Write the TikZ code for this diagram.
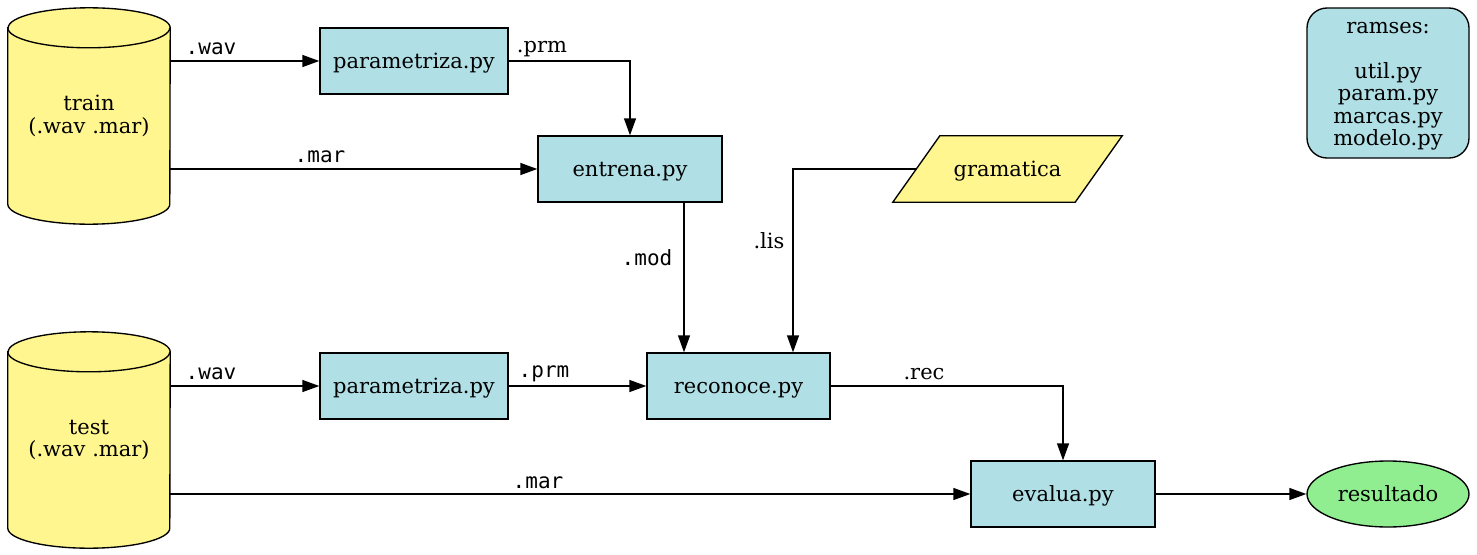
\documentclass[tikz,border=0pt]{standalone}
\usepackage{fontspec}
\setmainfont{DejaVu Serif}
\newfontfamily\monof{DejaVu Sans Mono}
\usetikzlibrary{arrows.meta,shapes.geometric,backgrounds}
\definecolor{pblue}{HTML}{B0E0E6}
\definecolor{khakione}{HTML}{FFF68F}
\definecolor{lgreen}{HTML}{90EE90}
\begin{document}
\begin{tikzpicture}[x=1pt,y=-1pt,
  font=\fontsize{21}{22.5}\selectfont,
  lw/.style={line width=1.35pt},
  txt/.style={text height=19pt, text depth=5pt},
  proc/.style={draw, lw, fill=pblue, minimum height=66pt, inner sep=0pt, txt},
  holder/.style={inner sep=0pt, align=center},
  lbls/.style={inner sep=0pt, font=\fontsize{21}{22.5}\selectfont},
  lblm/.style={inner sep=0pt, font=\monof\fontsize{21}{22.5}\selectfont},
  arr/.style={lw, -{Triangle[length=17pt,width=12pt]}}]
\useasboundingbox (0,0) rectangle (1477,554);
% nodes
\node[holder, minimum width=162pt, minimum height=216pt] (train) at (89,116) {train\\(.wav .mar)};
\node[holder, minimum width=162pt, minimum height=216pt] (test) at (89,440) {test\\(.wav .mar)};
\node[proc, minimum width=188pt] (p1) at (414,61) {parametriza.py};
\node[proc, minimum width=184pt] (entrena) at (630,169) {entrena.py};
\node[holder, minimum width=182pt, minimum height=66pt, txt] (gram) at (1007.5,169) {gramatica};
\node[draw, lw, fill=pblue, rounded corners=20pt, minimum width=162pt, minimum height=150pt, inner sep=0pt] (ramses) at (1388,83) {};
\node[holder] (ramsestxt) at (1388,86) {ramses:\\[22.5pt]util.py\\param.py\\marcas.py\\modelo.py};
\node[proc, minimum width=188pt] (p2) at (414,386) {parametriza.py};
\node[proc, minimum width=183pt] (reconoce) at (738.5,386) {reconoce.py};
\node[proc, minimum width=184pt] (evalua) at (1063,494) {evalua.py};
\node[draw, lw, fill=lgreen, ellipse, minimum width=162pt, minimum height=66pt, inner sep=0pt, txt] (resultado) at (1388,494) {resultado};
% shapes behind text
\begin{pgfonlayer}{background}
\foreach \c in {train,test}{
  \filldraw[lw, fill=khakione] ([yshift=-20pt]\c.north west) -- ([yshift=20pt]\c.south west)
    arc[start angle=180, end angle=360, x radius=81pt, y radius=20pt]
    -- ([yshift=-20pt]\c.north east)
    arc[start angle=0, end angle=180, x radius=81pt, y radius=20pt] -- cycle;
  \draw[lw] ([yshift=-20pt]\c.north west) arc[start angle=180, end angle=360, x radius=81pt, y radius=20pt];
}
\filldraw[lw, fill=khakione] ([xshift=-23.5pt]gram.south west) -- ([xshift=-23.5pt]gram.south east)
  -- ([xshift=23.5pt]gram.north east) -- ([xshift=23.5pt]gram.north west) -- cycle;
\end{pgfonlayer}
% helper coordinates
\coordinate (modx) at (684,0);
\coordinate (lisx) at (793,0);
% connectors
\draw[arr] (train.east |- p1) -- (p1.west);
\draw[arr] (p1.east) -| (entrena.north);
\draw[arr] (train.east |- entrena) -- (entrena.west);
\draw[arr] (entrena.south -| modx) -- (reconoce.north -| modx);
\draw[arr] (gram.west) -| (reconoce.north -| lisx);
\draw[arr] (test.east |- p2) -- (p2.west);
\draw[arr] (p2.east) -- (reconoce.west);
\draw[arr] (reconoce.east) -| (evalua.north);
\draw[arr] (test.east |- evalua) -- (evalua.west);
\draw[arr] (evalua.east) -- (resultado.west);
% labels
\node[lblm] (lwav1) at (211,49) {.wav};
\node[lbls] (lprm1) at (542,49) {.prm};
\node[lblm] (lmar1) at (320,157) {.mar};
\node[lblm] (lmod) at (647,258) {.mod};
\node[lbls] (llis) at (769,241) {.lis};
\node[lblm] (lwav2) at (211,374) {.wav};
\node[lblm] (lprm2) at (544,374) {.prm};
\node[lbls] (lrec) at (924,374) {.rec};
\node[lblm] (lmar2) at (538,483) {.mar};
\end{tikzpicture}
\end{document}
